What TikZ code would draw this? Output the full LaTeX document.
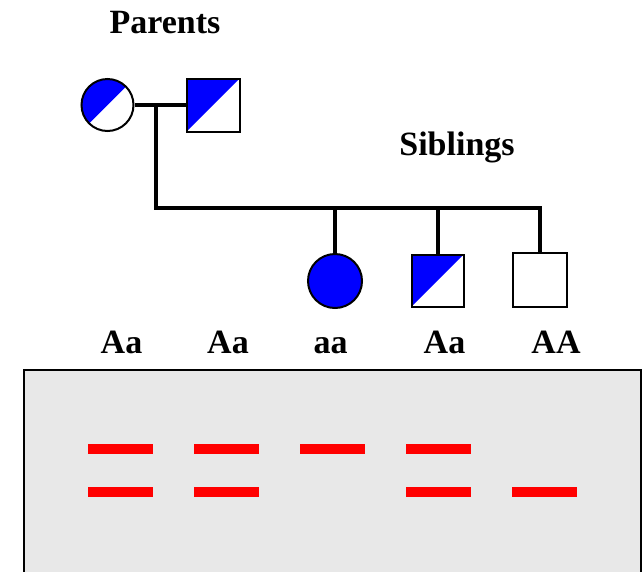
\documentclass[tikz,border=0pt]{standalone}
\usepackage{fontspec}
\setmainfont{Liberation Serif}
\begin{document}
\begin{tikzpicture}[x=1pt,y=-1pt,
  lbl/.style={font=\fontsize{34}{40}\selectfont\bfseries, inner sep=0pt, anchor=base},
  conn/.style={line width=4pt, line join=miter},
  sym/.style={draw=black, line width=2pt, inner sep=0pt, fill=white},
  halffill/.style={path picture={\fill[blue] (path picture bounding box.south west) -- (path picture bounding box.north east) -- (path picture bounding box.north west) -- cycle;}},
  band/.style={fill=red, draw=none, minimum width=65pt, minimum height=10pt, inner sep=0pt}]
\useasboundingbox (0,0) rectangle (642,571);
\begin{scope}
\clip (0,0) rectangle (642,571);
\node[draw=black, line width=2pt, fill={rgb,255:red,232;green,232;blue,232}, minimum width=617pt, minimum height=230pt, anchor=north west, inner sep=0pt] (gel) at (23,369) {};
\end{scope}
% titles
\node[lbl] (parents) at (165,33) {Parents};
\node[lbl] (siblings) at (457,155) {Siblings};
% parents
\node[sym, circle, minimum size=52pt, halffill] (mother) at (107.5,105) {};
\node[sym, rectangle, minimum size=53pt, halffill] (father) at (213,105) {};
% siblings
\node[sym, circle, minimum size=54pt, fill=blue] (sib1) at (335,281) {};
\node[sym, rectangle, minimum size=52pt, halffill] (sib2) at (437.5,280.5) {};
\node[sym, rectangle, minimum size=54pt] (sib3) at (540,280) {};
% connectors
\coordinate (drop) at (156,105);
\coordinate (bar) at (156,207.5);
\draw[conn] (mother) -- (father);
\draw[conn] (drop) -- (bar) -- (sib3.north |- bar) -- (sib3.north);
\draw[conn] (sib1.north |- bar) -- (sib1.north);
\draw[conn] (sib2.north |- bar) -- (sib2.north);
% genotypes
\node[lbl] (g1) at (121.5,353) {Aa};
\node[lbl] (g2) at (228,353) {Aa};
\node[lbl] (g3) at (330.5,353) {aa};
\node[lbl] (g4) at (444.5,353) {Aa};
\node[lbl] (g5) at (556,353) {AA};
% bands
\node[band] (b1a) at (120.5,449) {};
\node[band] (b1b) at (120.5,492) {};
\node[band] (b2a) at (226,449) {};
\node[band] (b2b) at (226,492) {};
\node[band] (b3a) at (332.5,449) {};
\node[band] (b4a) at (438,449) {};
\node[band] (b4b) at (438,492) {};
\node[band] (b5b) at (544,492) {};
\end{tikzpicture}
\end{document}
